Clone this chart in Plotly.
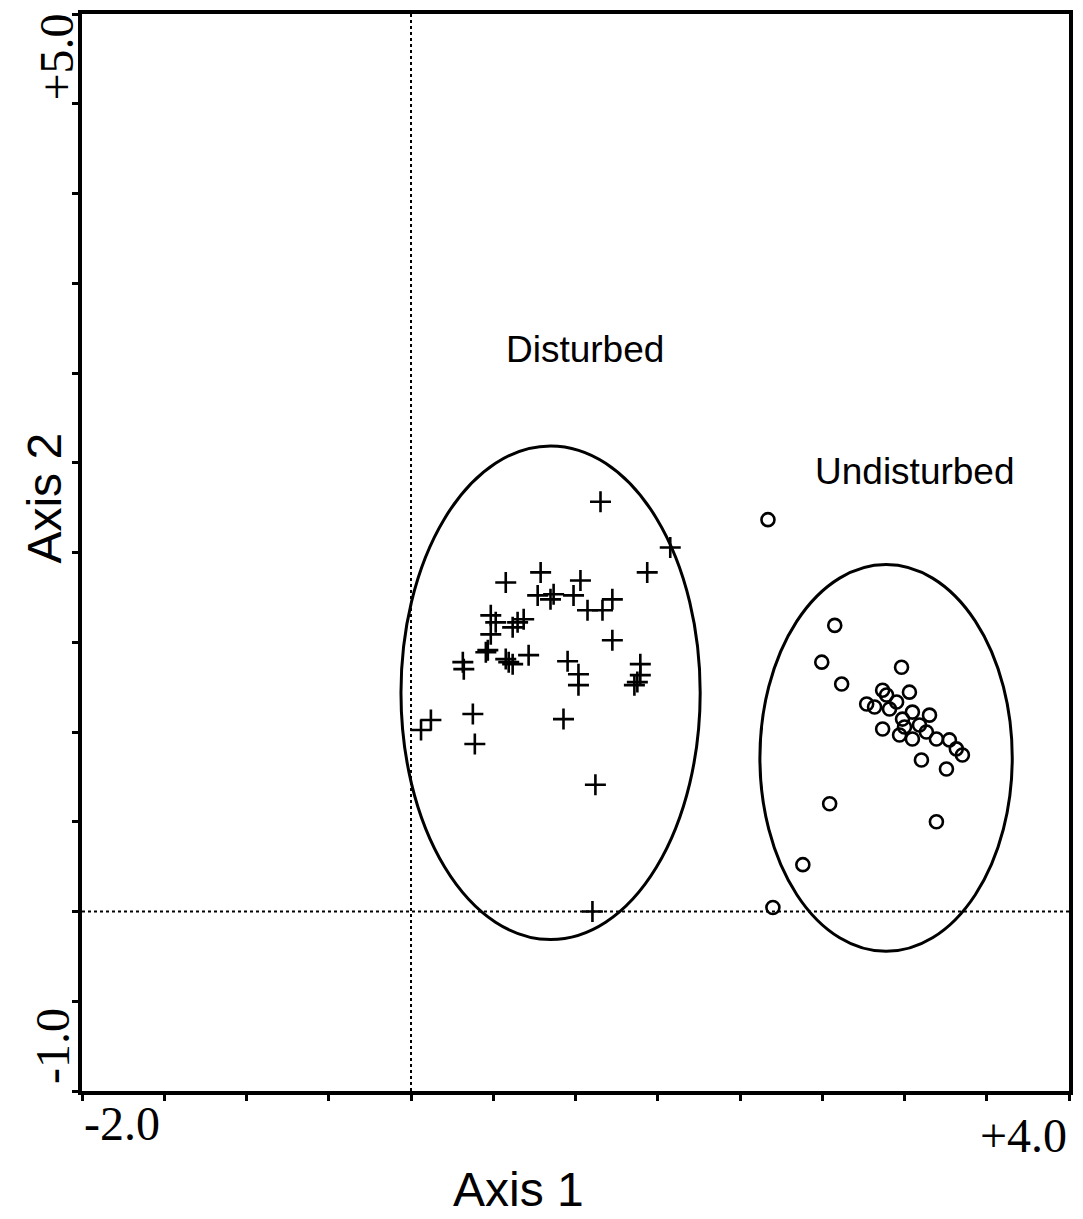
import plotly.graph_objects as go

# ---- data ----
disturbed_x = [1.152, 1.576, 0.788, 1.436, 0.576, 1.030, 0.770, 0.867, 0.848, 0.988,
               1.224, 1.073, 1.164, 0.485, 0.515, 0.648, 0.685, 0.618, 0.485, 1.224,
               0.455, 0.467, 0.315, 0.321, 0.594, 0.618, 0.576, 0.715, 0.952, 1.018,
               1.018, 1.394, 1.394, 1.376, 1.358, 0.376, 0.121, 0.061, 0.927, 0.388,
               1.121, 1.103]
disturbed_y = [2.283, 2.028, 1.889, 1.889, 1.833, 1.844, 1.761, 1.767, 1.739, 1.761,
               1.739, 1.678, 1.678, 1.650, 1.611, 1.611, 1.628, 1.583, 1.544, 1.511,
               1.444, 1.456, 1.389, 1.350, 1.389, 1.378, 1.406, 1.428, 1.394, 1.322,
               1.261, 1.378, 1.317, 1.278, 1.261, 1.100, 1.067, 1.011, 1.072, 0.933,
               0.706, 0.000]

undisturbed_x = [2.170, 2.576, 2.497, 2.618, 2.982, 2.867, 3.030, 2.770, 2.909, 3.048,
                 3.152, 2.867, 2.970, 3.048, 3.194, 3.273, 3.315, 3.352, 3.103, 3.255,
                 2.988, 3.091, 3.133, 2.952, 2.891, 2.818, 3.000, 2.545, 3.194, 2.382,
                 2.200]
undisturbed_y = [2.183, 1.594, 1.389, 1.267, 1.361, 1.233, 1.222, 1.156, 1.128, 1.111,
                 1.094, 1.017, 0.983, 0.961, 0.961, 0.956, 0.906, 0.872, 0.844, 0.794,
                 1.072, 1.039, 1.000, 1.167, 1.206, 1.139, 1.028, 0.600, 0.500, 0.261,
                 0.022]

# ellipses: [x0, y0, x1, y1] in axis units
group_names = ["Disturbed", "Undisturbed"]
ellipse_x0 = [-0.061, 2.121]
ellipse_x1 = [1.758, 3.655]
ellipse_y0 = [-0.156, -0.222]
ellipse_y1 = [2.594, 1.933]
label_x = [1.058, 3.064]
label_y = [3.13, 2.45]

x_range = [-2.0, 4.0]
y_range = [-1.0, 5.0]
x_tick_labels = ["-2.0", "+4.0"]
y_tick_labels = ["-1.0", "+5.0"]

SANS = "Liberation Sans, Arial, sans-serif"
SERIF = "Liberation Serif, Times New Roman, serif"

fig = go.Figure()

fig.add_trace(go.Scatter(
    x=disturbed_x, y=disturbed_y, mode="markers", name="Disturbed",
    marker=dict(symbol="cross-thin", size=15, color="black",
                line=dict(color="black", width=2.6)),
    showlegend=False))

fig.add_trace(go.Scatter(
    x=undisturbed_x, y=undisturbed_y, mode="markers", name="Undisturbed",
    marker=dict(symbol="circle-open", size=13, color="black",
                line=dict(color="black", width=2.6)),
    showlegend=False))

# dotted reference lines at zero
fig.add_shape(type="line", x0=0, x1=0, y0=y_range[0], y1=y_range[1],
              xref="x", yref="y", line=dict(color="black", width=2, dash="dot"))
fig.add_shape(type="line", x0=x_range[0], x1=x_range[1], y0=0, y1=0,
              xref="x", yref="y", line=dict(color="black", width=2, dash="dot"))

for i, name in enumerate(group_names):
    fig.add_shape(type="circle", xref="x", yref="y",
                  x0=ellipse_x0[i], x1=ellipse_x1[i], y0=ellipse_y0[i], y1=ellipse_y1[i],
                  line=dict(color="black", width=3))
    fig.add_annotation(x=label_x[i], y=label_y[i], xref="x", yref="y", text=name,
                       showarrow=False, font=dict(family=SANS, size=37, color="black"))

# end tick labels
fig.add_annotation(x=x_range[0], y=y_range[0], xref="x", yref="y", text=x_tick_labels[0],
                   showarrow=False, xanchor="left", yanchor="top", yshift=-4,
                   font=dict(family=SERIF, size=48, color="black"))
fig.add_annotation(x=x_range[1], y=y_range[0], xref="x", yref="y", text=x_tick_labels[1],
                   showarrow=False, xanchor="right", yanchor="top", yshift=-16,
                   font=dict(family=SERIF, size=48, color="black"))
fig.add_annotation(x=x_range[0], y=y_range[1], xref="x", yref="y", text=y_tick_labels[1],
                   showarrow=False, xanchor="center", yanchor="top", xshift=-26, yshift=2,
                   textangle=-90, font=dict(family=SERIF, size=48, color="black"))
fig.add_annotation(x=x_range[0], y=y_range[0], xref="x", yref="y", text=y_tick_labels[0],
                   showarrow=False, xanchor="center", yanchor="bottom", xshift=-30, yshift=5,
                   textangle=-90, font=dict(family=SERIF, size=48, color="black"))

axis_common = dict(showgrid=False, zeroline=False, showline=True, linewidth=4,
                   linecolor="black", mirror=True, ticks="outside", ticklen=6,
                   tickwidth=3, tickcolor="black", showticklabels=False, dtick=0.5)

fig.update_layout(
    width=1083, height=1219,
    margin=dict(l=82, r=14, t=10, b=128),
    plot_bgcolor="white", paper_bgcolor="white",
    xaxis=dict(range=x_range, tick0=x_range[0], **axis_common),
    yaxis=dict(range=y_range, tick0=y_range[0], **axis_common),
)

fig.add_annotation(x=0.442, y=-0.0916, xref="paper", yref="paper", text="Axis 1",
                   showarrow=False, xanchor="center", yanchor="middle",
                   font=dict(family=SANS, size=48, color="black"))
fig.add_annotation(x=-0.0375, y=0.551, xref="paper", yref="paper", text="Axis 2",
                   showarrow=False, xanchor="center", yanchor="middle", textangle=-90,
                   font=dict(family=SANS, size=48, color="black"))

fig.write_html("out.html")
